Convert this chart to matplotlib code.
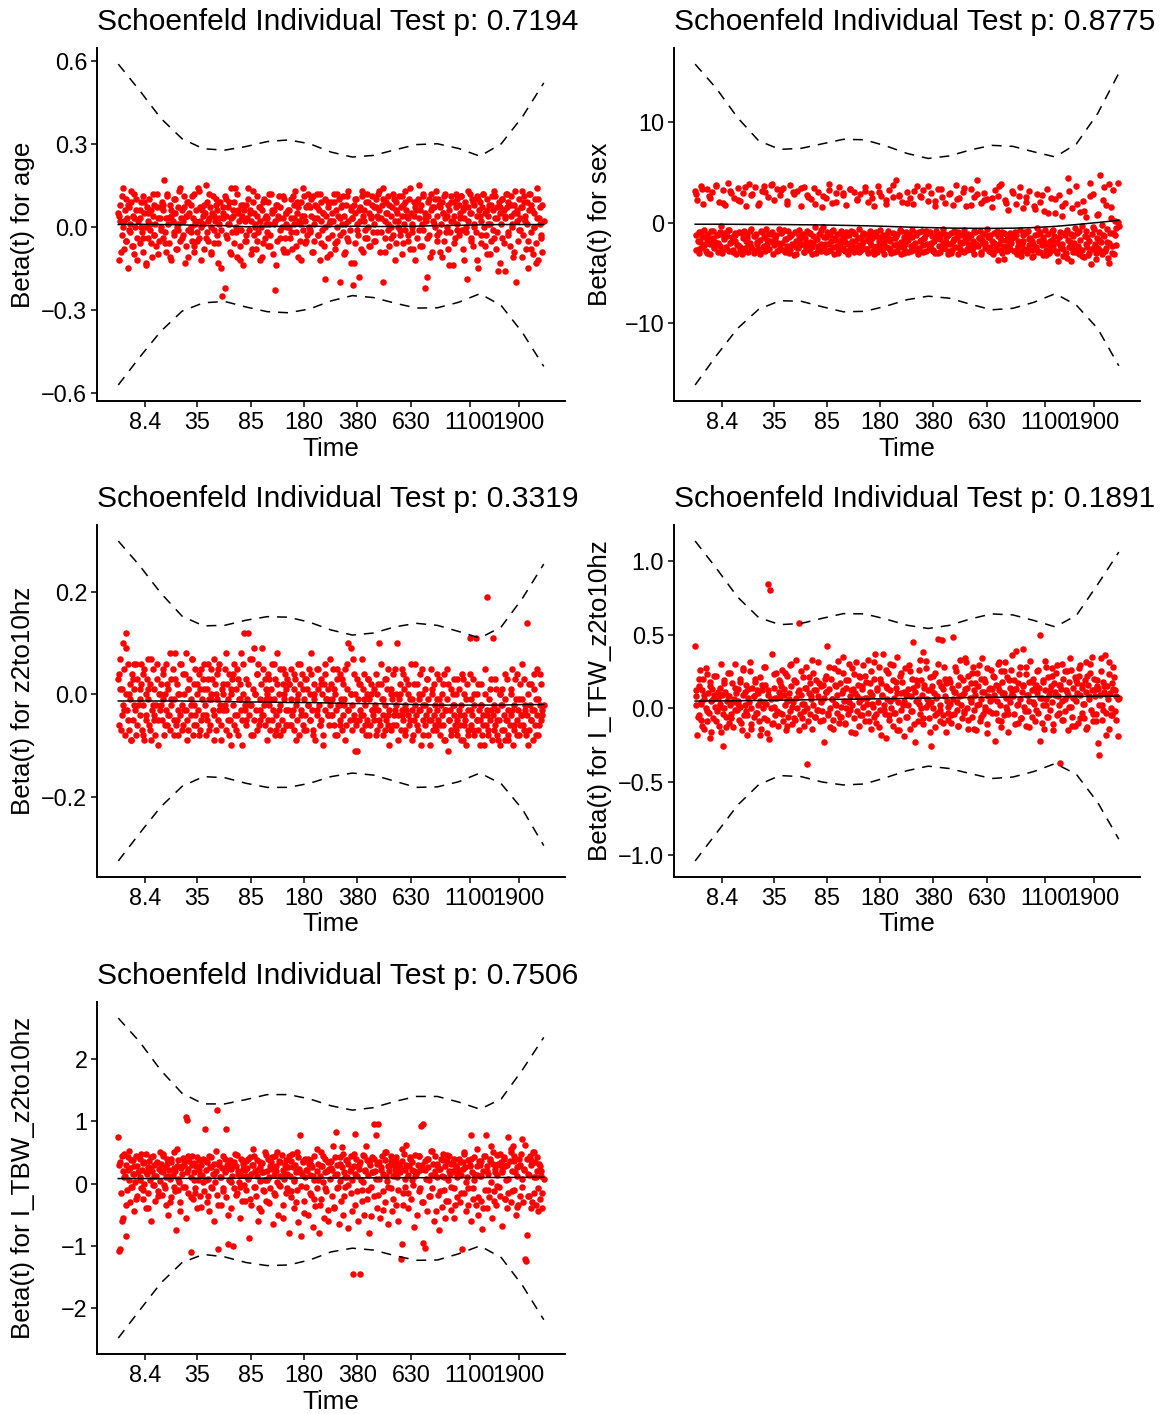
import matplotlib.pyplot as plt
import numpy as np
from matplotlib.ticker import FuncFormatter

plt.rcParams["font.family"] = ["Liberation Sans", "DejaVu Sans"]

# transformed event times (km scale, per mille) - shared by every covariate
EVENT_X = [
    0, 2, 3, 5, 8, 10, 11, 13, 15, 17, 19, 21, 22, 25, 27, 28, 30, 32, 34, 36, 38, 40, 42, 44, 47,
    50, 51, 53, 56, 58, 59, 61, 64, 66, 67, 69, 71, 73, 75, 77, 79, 81, 83, 85, 86, 89, 91, 93, 95, 97,
    100, 102, 104, 105, 107, 110, 112, 113, 115, 118, 120, 121, 123, 125, 128, 130, 131, 133, 135, 138, 140, 141, 143, 146, 148,
    150, 152, 153, 155, 158, 160, 162, 163, 165, 167, 170, 171, 173, 175, 177, 179, 181, 183, 185, 187, 189, 191, 193, 195, 198,
    200, 201, 203, 206, 208, 209, 211, 214, 216, 217, 219, 222, 224, 225, 227, 229, 231, 233, 235, 237, 239, 241, 244, 246, 247,
    250, 252, 254, 256, 257, 260, 262, 264, 265, 268, 270, 271, 273, 276, 278, 279, 281, 283, 286, 288, 289, 291, 294, 296, 298,
    300, 301, 303, 305, 308, 310, 311, 313, 316, 318, 319, 321, 323, 326, 327, 329, 332, 334, 335, 337, 339, 342, 344, 345, 348,
    350, 352, 353, 355, 357, 360, 361, 363, 366, 368, 369, 371, 374, 376, 377, 379, 381, 384, 386, 387, 389, 392, 394, 395, 397,
    400, 401, 404, 406, 407, 409, 412, 414, 415, 417, 420, 422, 423, 425, 427, 430, 431, 433, 436, 438, 439, 441, 444, 446, 448,
    450, 451, 453, 456, 458, 459, 461, 463, 466, 468, 469, 471, 474, 476, 477, 479, 482, 484, 485, 487, 489, 492, 494, 496, 497,
    500, 502, 503, 505, 508, 510, 511, 513, 515, 518, 520, 521, 523, 526, 528, 529, 531, 534, 536, 537, 539, 541, 544, 546, 547,
    550, 551, 554, 556, 557, 559, 562, 564, 565, 567, 569, 572, 574, 576, 577, 579, 582, 584, 585, 588, 590, 591, 593, 596, 598,
    600, 601, 603, 606, 608, 609, 611, 613, 616, 618, 620, 621, 623, 626, 627, 629, 632, 634, 635, 637, 640, 642, 643, 645, 648,
    650, 652, 653, 655, 658, 659, 661, 664, 666, 667, 669, 672, 674, 675, 677, 680, 682, 683, 685, 688, 690, 691, 694, 696, 697,
    700, 701, 704, 706, 707, 709, 712, 714, 715, 717, 720, 722, 723, 725, 728, 729, 731, 734, 736, 737, 739, 742, 744, 745, 748,
    750, 752, 753, 755, 758, 760, 761, 763, 766, 767, 769, 772, 774, 775, 777, 780, 782, 783, 786, 788, 789, 791, 794, 796, 797,
    800, 801, 804, 806, 807, 809, 812, 813, 815, 818, 820, 821, 823, 826, 828, 829, 831, 834, 835, 837, 840, 842, 843, 845, 848,
    850, 852, 853, 856, 858, 859, 861, 864, 866, 867, 869, 872, 873, 875, 878, 880, 881, 883, 886, 888, 889, 891, 894, 896, 897,
    900, 901, 903, 906, 908, 909, 912, 914, 915, 917, 920, 922, 923, 926, 928, 929, 931, 934, 936, 937, 939, 942, 944, 945, 948,
    950, 952, 954, 955, 958, 960, 961, 963, 966, 968, 969, 971, 974, 976, 977, 979, 982, 984, 985, 987, 990, 992, 994, 997, 1000,
    # events in between the ones above
    1, 6, 9, 14, 17, 22, 26, 29, 34, 37, 42, 45, 50, 53, 58, 61, 66, 69, 74, 77, 82, 85, 90, 93, 98,
    101, 106, 109, 114, 117, 122, 125, 130, 133, 138, 141, 146, 149, 154, 157, 162, 165, 170, 173, 178, 181, 186, 189, 194, 197,
    202, 205, 210, 213, 218, 221, 226, 229, 234, 237, 242, 245, 250, 253, 258, 261, 266, 269, 274, 277, 282, 285, 290, 293, 298,
    301, 306, 309, 314, 317, 322, 325, 330, 333, 338, 341, 346, 349, 354, 357, 362, 365, 370, 373, 378, 381, 386, 389, 394, 397,
    402, 405, 410, 413, 418, 421, 426, 429, 434, 437, 442, 445, 450, 453, 458, 461, 466, 469, 474, 477, 482, 485, 490, 493, 498,
    501, 506, 509, 514, 517, 522, 525, 530, 533, 538, 541, 546, 549, 554, 557, 562, 565, 570, 573, 578, 581, 586, 589, 594, 597,
    602, 605, 610, 613, 618, 621, 626, 629, 634, 637, 642, 645, 650, 653, 658, 661, 666, 669, 674, 677, 682, 685, 690, 693, 698,
    701, 706, 709, 714, 717, 722, 725, 730, 733, 738, 741, 746, 749, 754, 757, 762, 765, 770, 773, 778, 781, 786, 789, 794, 797,
    802, 805, 810, 813, 818, 821, 826, 829, 834, 837, 842, 845, 850, 853, 858, 861, 866, 869, 874, 877, 882, 885, 890, 893, 898,
    901, 906, 909, 914, 917, 922, 925, 930, 933, 938, 941, 946, 949, 954, 957, 962, 965, 970, 973, 978, 981, 986, 989, 994, 997,
]

# scaled Schoenfeld residuals, beta(t) for age (x 0.01)
AGE_RESID = [
    5, -12, 8, 2, -3, 14, 0, -8, 6, 10, -5, 3, -15, 7, 1, -2, 9, -7, 4, 12, -10, 0, 6, -4, 2,
    -6, 3, 9, -2, 11, -9, 5, 0, -13, 7, 2, -4, 10, -1, 6, -11, 4, 8, -3, 1, -7, 12, 3, -5, 7,
    0, 9, -4, 6, 17, -2, 3, -9, 11, 1, -6, 8, -12, 4, 2, -3, 10, 5, -8, 0, 7, -1, 13, -5, 3,
    6, -3, 2, 11, -7, 4, 9, -1, -11, 5, 0, 8, -5, 3, 12, -9, 1, 6, -2, 14, -4, 7, 2, -12, 4,
    1, -8, 5, 15, -2, 9, -5, 3, 7, -10, 0, 11, 4, -6, 2, 8, -3, 6, -13, 1, 9, -1, -25, 5, 3,
    -22, 4, 10, -4, 7, 1, -9, 14, 3, -2, 6, -6, 9, 0, 12, -11, 5, 2, -7, 8, -1, 4, -14, 6, 2,
    8, -5, 3, 14, -1, 6, -10, 2, 9, -3, 5, 1, -8, 11, 4, -2, 7, -12, 0, 6, -6, 10, 3, -4, 1,
    3, -7, 9, 1, -3, 12, 5, -10, 6, -23, 2, 8, -5, 4, 11, -1, 7, 0, -8, 3, 10, -4, 5, 1, -9,
    6, 0, -4, 10, 3, -8, 8, 1, 13, -2, 5, -11, 7, 2, -5, 9, 4, -1, 11, -6, 2, 7, -3, 12, 0,
    -2, 7, 4, -9, 11, 1, -5, 8, 3, 12, -3, 6, -12, 2, 9, -1, 5, -7, -19, 10, 4, -4, 7, 1, -10,
    9, -3, 5, 2, 12, -8, 6, 0, -5, 10, 3, -20, 7, 1, -2, 11, 4, -9, 8, -4, 13, 2, -1, 6, -13,
    3, -21, 8, 5, -6, 10, 1, -3, -18, 7, 2, 11, -9, 4, 6, -1, 9, -4, 12, 0, 5, -7, 3, 8, -2,
    7, 1, -5, 10, 4, -2, 12, 6, -9, 3, 8, -20, 14, 2, -4, 9, 5, -1, 11, -7, 4, 0, 7, -3, 10,
    2, 9, -6, 5, 0, 11, -3, 7, 4, -10, 8, 1, -1, 13, 6, -5, 3, 10, -8, 5, 1, -2, 9, 4, -12,
    6, -4, 10, 3, 15, -7, 8, 1, -1, 11, -22, 5, 2, -18, 9, 4, -3, 12, 6, -9, 2, 7, 0, 10, -5,
    4, 10, -2, 7, 1, -11, 9, 5, -5, 12, 3, 0, -8, 8, 6, -2, 11, 2, -14, 9, 4, -4, 7, 1, 10,
    -3, 8, 5, 11, -1, 6, -12, 3, 9, 0, -19, 7, 2, 12, -4, 5, 10, -7, 1, 8, -2, 11, 4, -15, 6,
    9, 2, -6, 7, 12, 0, 5, -3, 10, -10, 4, 8, 1, -5, 11, 6, -1, 13, 3, -8, 7, -2, 9, 5, -13,
    1, 10, -4, 6, 3, -16, 12, 7, -2, 9, -7, 4, 11, 0, -11, 8, 5, -20, 6, 2, -5, 10, 3, -1, 13,
    7, -3, 11, 4, -8, 9, 1, -15, 6, 12, -2, 8, -10, 5, 0, 10, -6, 3, 14, -12, 7, 1, -3, -9, 2,
    4, -9, 11, 2, -5, 8, -1, 13, -7, 3, 10, -12, 6, 0, -4, 9, -14, 5, 1, -6, 12, -3, 7, -10, 3,
    -1, 8, -6, 12, 3, -11, 6, -2, 10, -8, 1, 14, -4, 7, -13, 4, 9, -2, 11, -7, 2, -5, 13, 0, 6,
    8, -4, 2, 12, -9, 5, -1, 10, -6, 3, -15, 7, 11, -3, 1, 9, -10, 4, 14, -2, 6, -12, 3, 8, -5,
    -3, 10, 5, -8, 13, 0, -5, 7, 2, -11, 9, 4, -2, 12, -7, 6, 1, -14, 8, 3, -4, 11, -9, 5, 0,
    6, -2, 11, 3, -7, 9, 1, -12, 14, 4, -5, 8, -1, 10, -9, 3, 7, -3, 12, -6, 5, 0, -11, 9, 2,
    2, 9, -6, 12, 4, -3, 8, -10, 1, 11, -5, 7, 3, -13, 10, -1, 6, -8, 13, 2, -4, 9, -7, 4, 11,
    -5, 7, 3, 13, -2, 10, -9, 5, 1, 8, -4, 12, -12, 6, 2, -1, 11, -6, 9, 4, -3, 14, 0, -8, 7,
    9, -1, 6, -7, 12, 3, -4, 10, -11, 7, 1, 13, -3, 8, -9, 5, 11, -2, 4, -14, 9, 2, -6, 12, -1,
    3, 11, -8, 7, -2, 13, 5, -5, 9, 0, -12, 10, 4, -3, 12, -7, 6, 1, -10, 8, -4, 11, 3, -16, 7,
    10, -6, 4, 12, -3, 8, 1, -9, 13, 5, -1, 7, -11, 9, 2, -5, 12, -8, 6, 0, -13, 10, 3, -4, 8,
]

# beta(t) for sex (x 0.1)
SEX_RESID = [
    31, -27, -12, 22, -30, -9, -19, 36, -25, -14, 18, -22, -7, -28, 33, -17, -11, 26, -31, -21, -8, 30, -15, -24, -19,
    37, -12, -29, 20, -9, -23, -3, -30, 32, -16, -10, 17, -26, -13, 39, -28, -7, -20, 29, -14, -27, 24, -18, -10, -31,
    34, -22, -9, -27, 21, -31, -15, 29, -8, -25, -18, 16, -12, -29, 38, -20, -6, -24, 28, -13, -30, 35, -11, -21, -26,
    19, -17, -30, -8, 31, -24, -14, 36, -28, -6, -21, 25, -11, -26, -18, 37, -9, -31, -22, 22, -15, -12, 33, -20, -27,
    27, -25, -10, -20, 34, -7, -29, -16, 18, -23, -8, -14, 37, -27, -12, -21, 30, -32, -9, -24, -31, 31, -17, -13, -22,
    16, -21, -11, -29, 35, -15, -25, -8, 27, -27, -19, -10, 23, -24, -13, -20, 34, -4, -30, -16, -23, 30, -11, -7, -28,
    15, -4, -24, -14, 24, -29, -9, -21, 32, -12, -27, -18, 19, -7, -31, -15, 29, -23, -11, -26, 35, -20, -8, -17, -25,
    27, -14, -28, -9, 17, -21, -31, -12, 33, -24, -8, -18, 30, -29, -11, -25, 22, -15, -22, -6, 28, -27, -13, -23, -19,
    31, -11, -26, -17, 20, -30, -8, -22, 29, -15, -28, -10, 16, -24, -13, -29, 36, -18, -7, -25, 26, -21, -12, -31, -16,
    22, -24, -13, -8, 32, -27, -18, -30, 25, -10, -22, -15, 42, -28, -11, -24, 27, -7, -31, -19, 20, -14, -26, -21, -9,
    30, -17, -29, -11, 24, -23, -14, -7, 18, -27, -20, -12, 36, -31, -9, -25, 26, -17, -8, -22, 32, -15, -28, -11, -21,
    21, -26, -9, -21, 29, -13, -28, -18, 16, -30, -8, -15, 33, -23, -11, -29, 25, -20, -6, -25, 19, -14, -19, -31, -12,
    28, -21, -10, -27, 17, -18, -8, -24, 37, -14, -31, -9, 24, -26, -12, -20, 30, -29, -7, -17, 16, -27, -11, -15, -23,
    33, -12, -26, -18, 25, -31, -9, -21, 42, -23, -15, -8, 19, -29, -17, -11, 29, -25, -20, -6, 23, -14, -28, -12, -24,
    15, -18, -31, -10, 32, -25, -8, -37, 26, -21, -14, -27, 38, -9, -23, -36, 22, -17, -12, -28, 12, -26, -10, -20, -15,
    29, -28, -14, -9, 18, -31, -18, -23, 35, -7, -29, -21, 14, -12, -26, -10, 25, -30, -8, -22, 31, -15, -27, -18, -33,
    16, -12, -26, -5, 28, -29, -18, -9, 20, -22, -32, -14, 11, -7, -27, -20, 33, -11, -30, -24, 24, -17, -8, -23, -13,
    9, -28, -19, -38, 27, -14, -9, -25, 6, -21, -33, -12, 19, -30, -7, -17, 44, -24, -11, -38, 14, -29, -20, -5, -27,
    36, -10, -23, -31, 10, -17, -3, -27, 21, -34, -13, -8, 5, -24, -32, -18, 39, -41, -11, -26, 28, -6, -21, -30, -15,
    8, -25, -9, 47, -19, -2, -31, 22, -13, -28, 17, -6, -35, 38, -20, -10, 4, -23, -30, 32, 2, -12, -5, 39, -3,
    28, -18, -26, -9, 33, -22, -13, -30, 24, -16, -8, -25, 36, -20, -11, -28, 19, -14, -24, -7, 31, -19, -29, -12, -22,
    22, -24, -10, -29, 35, -15, -21, -8, 27, -27, -13, -19, 17, -31, -9, -23, 30, -17, -26, -11, 38, -20, -14, -28, -6,
    32, -9, -27, -16, 21, -30, -12, -22, 28, -18, -25, -7, 34, -14, -29, -20, 25, -10, -23, -31, 18, -16, -26, -11, -21,
    26, -21, -14, -28, 38, -8, -24, -17, 20, -30, -11, -26, 29, -19, -13, -27, 33, -22, -9, -18, 23, -29, -15, -25, -10,
    35, -26, -12, -19, 24, -31, -9, -23, 30, -14, -27, -20, 18, -11, -25, -16, 37, -29, -13, -21, 26, -8, -24, -30, -17,
    19, -13, -28, -22, 31, -10, -26, -18, 25, -29, -15, -8, 36, -23, -20, -27, 21, -12, -30, -16, 33, -25, -11, -21, -28,
    29, -30, -16, -9, 23, -24, -19, -28, 34, -12, -26, -21, 17, -27, -8, -23, 28, -15, -31, -20, 22, -11, -25, -14, -29,
    24, -20, -27, -13, 36, -17, -30, -10, 19, -25, -22, -15, 31, -28, -12, -24, 26, -33, -18, -9, 20, -26, -16, -34, -21,
    13, -24, -11, -29, 27, -16, -21, -32, 9, -18, -27, -7, 23, -30, -14, -22, 16, -26, -10, -35, 31, -19, -25, -13, -29,
    18, -8, -27, -33, 11, -21, -14, -30, 26, -4, -24, -36, 7, -17, -28, -12, 35, -25, -19, -40, 15, -10, -31, -22, 1,
]

# beta(t) for z2to10hz (x 0.01)
Z2_RESID = [
    3, -6, 7, 1, -4, 10, -2, 5, -8, 0, 12, -3, 6, -7, 2, -1, -9, 4, -5, 1, 6, -3, -8, 3, -2,
    -4, 1, 6, -7, -2, 4, -9, 0, -5, 3, -1, 7, -6, 2, -9, -3, 5, -4, 1, -8, -2, 6, -5, 0, -3,
    2, -5, -1, 4, -8, 0, -3, 6, -6, 1, -4, -7, 3, -2, 5, -5, -1, 8, -6, 2, -3, -8, 0, -4, 6,
    -2, 4, -6, 0, -3, 8, -5, 1, -7, 3, -1, -4, 7, -8, 2, -2, 5, -6, 0, -3, 4, -7, 1, -5, 3,
    -4, 6, -2, -8, 1, -5, 3, -1, -6, 5, 0, -3, 7, -4, 2, -7, -1, 4, -5, 6, -2, -9, 1, -3, 0,
    5, -3, -7, 2, -1, 4, -5, 0, -10, 3, -2, 6, -6, 1, -4, 5, -8, -1, 2, -3, 8, -5, 0, 12, -2,
    -6, 3, -1, 12, -4, 7, -2, -8, 1, 9, -5, 0, -3, 4, -7, 6, -1, -5, 2, -4, 5, -2, -6, 3, -1,
    0, -5, 4, -2, -7, 1, 6, -3, -1, -8, 3, -4, 8, -6, 0, -2, 5, -5, 2, -7, -1, 4, -3, 1, -6,
    -3, 2, -6, 5, -1, -4, 1, -7, 3, -2, -5, 6, 0, -8, 2, -3, 4, -6, -1, 3, -4, -7, 1, -2, 5,
    -5, 0, 4, -3, -7, 2, -1, -9, 5, -4, 1, -2, -6, 3, -5, 0, -8, 2, -3, 6, -1, -4, 1, -6, -2,
    2, -4, -1, 5, -6, 0, -3, -8, 3, -2, 4, -5, -1, -7, 2, -4, -2, 5, -6, 1, -3, 10, -5, 0, 9,
    -2, 7, -4, -11, 0, -6, 3, -1, -5, 2, -3, -7, 1, -4, 4, -2, -8, 0, -5, 3, -1, -6, 2, -3, -4,
    1, -5, -2, 4, -7, 0, -3, 10, -6, 2, -1, -4, -8, 3, -2, -5, 1, -6, 5, -3, 0, -7, -1, 4, -4,
    -3, 0, -6, 10, -4, -1, 2, -7, -3, 5, -5, 1, -2, -8, 3, -4, 0, -6, -1, 6, -3, -9, 2, -5, -2,
    -4, 2, -7, -1, -3, 4, -10, 0, -5, -2, 1, -6, -4, 3, -8, -1, -3, 5, -5, 0, -7, 2, -2, -6, -3,
    -1, -5, 3, -8, -2, -4, 0, -6, 4, -3, -9, -1, -11, 2, -5, -3, 1, -7, -2, -4, 3, -6, 0, -5, -8,
    -3, 1, -6, -2, 4, -9, -4, 0, -5, -10, 2, -3, -7, 11, -1, -6, -4, 3, -8, -2, 11, -5, 0, -7, -3,
    -5, -2, 2, -8, -4, -10, 0, -6, -3, 19, -7, -1, -5, 3, -9, -4, 11, -2, -6, 1, -8, -3, -5, 0, -10,
    -2, -7, 1, -4, -9, -1, -5, 3, -8, -3, -6, 0, -4, 5, -10, -2, -7, -1, 4, -5, -3, -8, 2, -6, -4,
    -1, -6, 3, -3, -8, 14, -4, 0, -7, -2, -5, 2, -9, -3, 1, -6, -1, -4, 5, -8, -2, 4, -5, -3, -2,
    4, -7, 1, -3, 9, -5, 0, -9, 3, -2, 6, -6, -1, 2, -8, 5, -4, 1, -7, 7, -2, -5, 3, -10, 0,
    -2, 5, -6, 2, -4, 8, -1, -8, 3, -5, 0, 6, -7, -3, 4, -9, 1, -2, 7, -6, -4, 2, -8, 5, -1,
    1, -4, 6, -7, -1, 3, -9, 0, 5, -3, -6, 2, -2, 8, -5, -8, 1, 4, -4, -7, 3, -1, -10, 6, -3,
    -5, 2, -2, 7, -8, 0, 4, -6, -3, 9, -4, 1, -9, 3, -1, -5, 6, -7, 2, -3, -8, 5, 0, -6, 3,
    2, -6, -3, 4, -9, -1, 6, -4, 1, -7, 3, -2, -5, 8, -8, 0, -3, 5, -6, 2, -10, 4, -1, -4, 7,
    -4, 1, -8, 5, -2, -6, 3, -1, -9, 6, -3, 0, -7, 4, -5, -11, 2, -4, 7, -1, -6, 3, -8, 0, -3,
    -3, -8, 2, -5, 6, -1, -7, 3, -4, -10, 1, -6, 5, -2, -9, 0, -4, 4, -7, -3, 2, -5, -1, -8, 6,
    -6, 0, -3, 5, -8, -2, 3, -5, -10, 1, -4, -7, 4, -1, -6, 2, -9, -3, 5, -5, -8, 0, -2, -7, 3,
    -4, -9, 3, -6, -1, -8, 4, -3, -7, 0, -5, 2, -10, -2, -6, 5, -4, -8, 1, -3, -7, 3, -5, -9, 0,
    -2, -7, 4, -5, -9, 1, -3, -6, 3, -8, -1, -4, 6, -7, -2, -10, 2, -5, -3, 4, -8, -1, -6, 2, -4,
]

# beta(t) for I_TFW_z2to10hz (x 0.01)
TFW_RESID = [
    42, 2, 8, -18, 15, -5, 26, 4, -8, 12, 20, -14, 6, 0, 23, -9, 10, -3, 18, -20, 5, 13, -7, 9, 1,
    22, -2, 7, -12, 14, 3, -16, 9, -26, 19, 0, 11, -6, 5, 24, -10, 8, 2, -4, 17, -13, 6, 30, -1, 10,
    3, 13, -8, 20, 1, -15, 9, 27, -5, 11, -2, 16, -18, 7, 4, 25, -11, 0, 14, -6, 8, 18, -3, 12, 2,
    -9, 21, 5, -14, 12, 0, 28, -7, 16, 3, -17, 9, 84, -21, 80, 6, 37, -10, 14, 1, -5, 24, 7, -12, 11,
    18, -3, 8, 26, -9, 13, 2, -15, 22, 5, -6, 10, 29, -2, 15, -11, 4, 19, -8, 7, 33, 0, 12, 58, -4,
    9, -7, 21, 3, -12, 14, 28, 0, -38, 10, -4, 17, 6, -14, 24, 2, 12, -6, 19, -1, 8, 31, -9, 15, 4,
    -2, 16, 7, -23, 11, 22, 42, -5, 13, 0, -13, 20, 6, -8, 27, 3, 15, -3, 9, 32, -10, 17, 1, -6, 12,
    24, 5, -11, 14, 0, 19, -4, 30, 8, -16, 12, 2, 23, -7, 10, 31, -2, 16, 4, -12, 21, 6, -5, 13, 29,
    7, -9, 18, 3, 33, -3, 11, -14, 25, 9, 1, -6, 20, 37, -10, 14, 4, 28, -1, 17, -18, 8, 37, 2, -4,
    15, -20, 6, 24, -5, 12, 30, 0, -12, 19, 7, -3, 14, -15, 35, 4, -8, 22, 10, -1, 18, -19, 5, 27, 9,
    -6, 13, 2, 29, -14, 8, 20, -2, 45, 11, -23, 5, 16, -9, 26, 3, -4, 19, 9, 38, -11, 14, 1, 32, 6,
    12, -7, 21, 4, -26, 15, 0, 10, -13, 24, 7, -3, 47, 18, -9, 2, 46, 13, -5, 28, 8, -16, 17, 1, -8,
    20, 3, -10, 14, 6, 48, -4, 11, 25, -1, 16, -12, 8, 33, 2, -7, 19, 10, -3, 13, 31, 0, -14, 22, 7,
    4, 17, -6, 28, 12, -1, 9, -15, 24, 15, 3, -9, 20, 6, 34, -4, 11, 1, 18, -11, 27, 8, -2, 14, 5,
    13, -3, 22, 9, -22, 16, 5, 30, -8, 12, 2, -13, 25, 18, -5, 10, 31, 7, -1, 21, -16, 14, 4, 26, 11,
    8, 19, -4, 13, 39, 2, -10, 17, 6, 28, -7, 11, 40, 15, 1, -12, 23, 9, -2, 18, 5, 32, -6, 12, 20,
    3, -9, 16, 10, 25, -3, 14, 50, -22, 7, 19, 2, -14, 12, 28, 6, -6, 21, 9, -1, 15, 27, 4, -11, 17,
    11, 24, -5, 8, 16, 2, -37, 13, 30, -8, 20, 6, -2, 12, 25, -15, 9, 18, 1, 26, -6, 14, 7, -12, 21,
    5, 17, -10, 22, 9, 29, -3, 14, 3, -7, 19, 11, 31, -13, 16, 6, 24, -1, 12, 35, -9, 20, 8, -4, 15,
    13, -24, -32, 9, 34, 2, -8, 18, 11, 36, -3, 15, 6, -14, 23, 10, 0, 17, -5, 28, 12, -2, 8, -19, 7,
    12, -6, 20, 3, -12, 9, 27, -2, 15, -16, 6, 22, -9, 11, 1, 30, -4, 17, -13, 8, 24, -7, 4, 14, -1,
    5, 18, -10, 26, 2, -5, 13, 31, -14, 8, 20, -3, 10, -18, 16, 4, 28, -8, 12, 0, -11, 23, 7, -2, 19,
    15, -4, 9, 24, -12, 6, 30, 1, -7, 18, 11, -15, 25, 3, -2, 14, -9, 21, 8, 33, -6, 12, -1, 17, 5,
    -8, 20, 11, -3, 28, 6, -14, 16, 2, 25, -6, 10, 35, -10, 19, 4, -1, 27, 13, -17, 8, 22, -5, 15, 1,
    22, 7, -9, 17, 3, 31, -4, 12, -13, 20, 9, -1, 26, 14, -8, 5, 29, -3, 18, 10, -15, 24, 2, 11, -6,
    9, 25, -2, 14, -11, 19, 6, 33, 0, -7, 16, 27, 3, -16, 12, 22, -5, 8, 30, -1, 15, -10, 20, 5, -3,
    18, -5, 11, 28, 4, -12, 21, 9, -2, 34, 14, -8, 6, 24, -14, 17, 2, 29, -6, 11, 20, -1, -17, 13, 26,
    6, 21, -3, 15, 31, -9, 10, 25, 1, -4, 19, 8, 36, -11, 13, 3, 23, -7, 16, -2, 28, 9, -13, 18, 4,
    14, -1, 26, 7, -10, 18, 32, 2, -6, 12, 22, -15, 9, 29, -3, 16, 5, -8, 25, 11, 1, 34, -12, 7, 19,
    10, 27, -7, 16, 3, -14, 22, 8, 30, -4, 12, -9, 19, 2, 25, -1, 15, -18, 9, 31, -5, 13, 21, -8, 6,
]

# beta(t) for I_TBW_z2to10hz (x 0.01)
TBW_RESID = [
    74, -108, -105, 35, -60, 20, -55, 48, 12, -85, 30, -10, 42, 5, 25, -30, 38, -5, 15, -45, 28, 2, 45, -20, 18,
    10, 40, -8, 22, -25, 33, 0, 48, -40, 15, 26, -15, 37, 6, -60, 20, 44, -3, 30, -28, 12, 35, -12, 24, 4,
    32, -18, 18, 45, -2, 27, -35, 10, 39, -50, 22, 8, -22, 34, 14, -5, 50, 20, -75, 28, -10, 38, 3, -30, 25,
    16, 41, -6, 30, -55, 107, 102, 24, -15, 36, -110, 11, 45, -25, 19, 33, -8, 28, -40, 6, 38, 14, -20, 29, 2,
    40, -12, 87, 22, -30, 35, 8, -45, 26, -5, 42, 15, -60, 31, 3, 20, -18, 118, -105, 34, 10, -35, 25, 44, -8,
    18, -22, 87, 30, -98, 6, 38, -40, 24, 12, -100, 35, -8, 28, 46, -15, 20, 2, -55, 40, 14, -28, 32, -3, 22,
    36, -10, 25, 8, -87, 42, 16, -35, 30, -5, 45, 20, -20, 12, 38, -60, 26, 4, -45, 33, 18, -12, 50, 6, -28,
    20, -30, 40, 10, -8, 34, 24, -65, 14, 44, -18, 28, 2, -50, 36, 12, -4, 46, 22, -35, 8, 30, -15, 38, 16,
    26, -80, 12, 36, -22, 48, 4, -40, 30, 18, -10, 42, -62, 24, 78, -85, 16, 34, -28, 10, 40, -6, 22, -50, 32,
    14, 38, -18, 26, -70, 6, 44, -36, 20, -8, 32, -80, 12, 50, -25, 28, 2, -55, 40, 18, -12, 34, -42, 24, 8,
    36, -20, 22, 60, -40, 14, 83, -8, 30, -65, 42, 4, -28, 26, 48, -50, 18, -5, 38, 10, -72, 32, 20, -15, 44,
    6, -145, 28, 80, -35, 40, 12, -60, 24, -145, 34, -10, 46, 2, -50, 22, 60, -25, 38, 14, -80, 30, -6, 42, 18,
    95, -20, 20, 78, -40, 32, 95, 8, -55, 26, 44, -12, 16, 38, -30, 50, 4, -65, 28, 20, -8, 36, -45, 12, 30,
    24, -35, 42, 10, -60, 30, 18, -122, -98, 36, -15, 48, 22, -5, 62, 14, -40, 28, 40, -25, 6, 34, -70, 20, 46,
    16, -50, 30, 44, -12, 22, 93, -30, 95, -95, -104, 36, 8, -45, 26, 40, -20, 14, 52, -8, 32, -60, 20, 44, 10,
    30, -18, -75, 24, 40, -38, 12, 48, -10, 28, -55, 36, 6, -28, 44, 16, -42, 32, 20, -8, 40, -35, 26, 10, -22,
    22, 40, -30, 14, -106, 34, 48, -15, 26, -45, 10, 38, -8, 30, -60, 78, 18, -25, 42, 6, -35, 28, 14, -50, 36,
    12, -28, 36, -73, 20, 44, -10, 78, -40, 28, 16, -22, 40, 2, -55, 32, 50, -12, 24, -35, 14, 46, -5, 30, -20,
    34, -68, 18, 42, -25, 28, 6, -40, 74, -15, 36, 50, -30, 20, 60, -10, 44, -50, 26, 12, -35, 40, -20, 30, 8,
    72, -30, 22, -122, -125, 40, -83, 15, -20, 45, 30, -40, 50, 10, -15, 35, -35, 20, 42, -8, 28, -25, 12, -40, 8,
    30, -15, 45, 10, -35, 22, 52, -5, 38, 15, -25, 28, 5, 48, -10, 35, 18, -40, 25, 42, -2, 12, 33, -20, 50,
    20, 48, -8, 32, 12, -30, 40, 25, -12, 55, 8, -45, 28, 36, -5, 18, 44, -22, 30, 6, -15, 42, 22, -38, 14,
    38, 5, -20, 45, 26, -8, 15, 52, -35, 30, 10, -12, 40, 22, -50, 34, 2, 28, 48, -18, 16, -6, 38, 24, -28,
    12, 40, -25, 30, 55, -5, 22, -40, 35, 18, -10, 46, 6, -32, 28, 42, -15, 20, 50, -2, 34, -55, 14, 26, -8,
    44, -12, 26, 8, -30, 50, 18, -4, 36, -48, 22, 40, -15, 30, 12, -25, 55, 6, -35, 28, 45, -8, 20, -60, 34,
    25, -38, 42, 15, -6, 32, 58, -20, 10, 38, -2, 24, -45, 48, 16, -12, 30, 5, -28, 44, 20, -10, 35, -52, 18,
    40, 8, -18, 34, 22, -42, 50, 12, -5, 28, 45, -25, 16, 36, -10, 26, 55, -35, 8, 30, -15, 42, 22, -3, 12,
    18, 45, -8, 30, -30, 22, 40, 6, -20, 52, 14, -45, 32, 24, -12, 38, 10, -28, 46, 20, -5, 34, -55, 28, 15,
    35, -15, 24, 50, 2, -35, 28, 40, -8, 16, 56, -22, 30, 12, -40, 44, 20, -10, 36, 60, -28, 18, -4, 32, 48,
    22, 40, -25, 30, 8, 55, -12, 36, 18, -38, 28, 48, -5, 24, 62, -20, 14, 38, -30, 50, 10, -45, 32, 20, -15,
]

# smoothed beta(t) and its +-2se band, read at these transformed times
CURVE_X = [0.0, 0.05, 0.10, 0.15, 0.20, 0.25, 0.30, 0.35, 0.40, 0.45, 0.50,
           0.55, 0.60, 0.65, 0.70, 0.75, 0.80, 0.85, 0.90, 0.95, 1.0]

AGE_FIT = [0.008, 0.009, 0.008, 0.007, 0.004, 0.004, 0.0, 0.001, 0.002, 0.002, 0.001,
           0.002, 0.001, 0.001, 0.002, 0.004, 0.005, 0.007, 0.008, 0.008, 0.008]
AGE_UPPER = [0.588, 0.493, 0.392, 0.318, 0.282, 0.277, 0.290, 0.308, 0.314, 0.300, 0.270,
             0.252, 0.258, 0.278, 0.297, 0.300, 0.283, 0.255, 0.300, 0.398, 0.520]
AGE_LOWER = [-0.572, -0.472, -0.378, -0.305, -0.275, -0.270, -0.290, -0.307, -0.311, -0.297, -0.268,
             -0.249, -0.256, -0.276, -0.294, -0.293, -0.273, -0.242, -0.285, -0.383, -0.505]

SEX_FIT = [-0.17, -0.17, -0.18, -0.19, -0.20, -0.22, -0.24, -0.28, -0.32, -0.38, -0.45,
           -0.50, -0.55, -0.57, -0.58, -0.56, -0.50, -0.38, -0.20, 0.0, 0.22]
SEX_UPPER = [15.7, 13.3, 10.4, 8.1, 7.25, 7.35, 7.8, 8.25, 8.2, 7.6, 6.85,
             6.35, 6.6, 7.2, 7.65, 7.55, 7.0, 6.5, 7.8, 10.8, 14.8]
SEX_LOWER = [-16.1, -13.2, -10.5, -8.6, -7.75, -7.8, -8.35, -8.85, -8.8, -8.3, -7.65,
             -7.3, -7.5, -8.1, -8.65, -8.5, -7.9, -7.05, -8.2, -10.5, -14.2]

Z2_FIT = [-0.013, -0.013, -0.013, -0.013, -0.014, -0.014, -0.015, -0.015, -0.016, -0.016, -0.017,
          -0.018, -0.018, -0.019, -0.020, -0.021, -0.021, -0.021, -0.021, -0.020, -0.020]
Z2_UPPER = [0.300, 0.252, 0.198, 0.153, 0.134, 0.135, 0.145, 0.152, 0.151, 0.141, 0.126,
            0.116, 0.120, 0.132, 0.139, 0.135, 0.123, 0.110, 0.132, 0.188, 0.255]
Z2_LOWER = [-0.326, -0.272, -0.220, -0.180, -0.161, -0.163, -0.174, -0.182, -0.182, -0.174, -0.161,
            -0.154, -0.158, -0.170, -0.182, -0.181, -0.171, -0.154, -0.175, -0.225, -0.296]

TFW_FIT = [0.048, 0.049, 0.050, 0.052, 0.054, 0.056, 0.058, 0.060, 0.062, 0.064, 0.066,
           0.068, 0.070, 0.072, 0.074, 0.075, 0.077, 0.078, 0.079, 0.080, 0.081]
TFW_UPPER = [1.135, 0.95, 0.755, 0.615, 0.567, 0.575, 0.610, 0.642, 0.640, 0.605, 0.563,
             0.541, 0.562, 0.606, 0.640, 0.633, 0.595, 0.552, 0.630, 0.84, 1.06]
TFW_LOWER = [-1.038, -0.85, -0.66, -0.52, -0.458, -0.465, -0.502, -0.522, -0.515, -0.472, -0.425,
             -0.394, -0.41, -0.445, -0.478, -0.468, -0.43, -0.376, -0.45, -0.64, -0.89]

TBW_FIT = [0.080, 0.080, 0.081, 0.082, 0.083, 0.084, 0.085, 0.086, 0.087, 0.088, 0.089,
           0.090, 0.091, 0.092, 0.093, 0.094, 0.095, 0.096, 0.097, 0.098, 0.100]
TBW_UPPER = [2.66, 2.28, 1.82, 1.45, 1.28, 1.28, 1.35, 1.43, 1.43, 1.36, 1.25,
             1.18, 1.22, 1.32, 1.40, 1.40, 1.31, 1.195, 1.36, 1.83, 2.35]
TBW_LOWER = [-2.485, -2.04, -1.60, -1.27, -1.14, -1.18, -1.27, -1.32, -1.31, -1.23, -1.10,
             -1.04, -1.07, -1.16, -1.235, -1.23, -1.13, -1.003, -1.19, -1.64, -2.19]

# x axis shows the original times at their transformed positions
TIME_TICK_POS = [0.063, 0.186, 0.312, 0.437, 0.562, 0.689, 0.826, 0.941]
TIME_TICK_LABELS = ["8.4", "35", "85", "180", "380", "630", "1100", "1900"]

PANELS = [
    # label, p value, residuals, residual unit, fit, upper, lower, y ticks, decimals
    ("age", "0.7194", AGE_RESID, 0.01, AGE_FIT, AGE_UPPER, AGE_LOWER,
     [-0.6, -0.3, 0.0, 0.3, 0.6], 1),
    ("sex", "0.8775", SEX_RESID, 0.1, SEX_FIT, SEX_UPPER, SEX_LOWER,
     [-10, 0, 10], 0),
    ("z2to10hz", "0.3319", Z2_RESID, 0.01, Z2_FIT, Z2_UPPER, Z2_LOWER,
     [-0.2, 0.0, 0.2], 1),
    ("I_TFW_z2to10hz", "0.1891", TFW_RESID, 0.01, TFW_FIT, TFW_UPPER, TFW_LOWER,
     [-1.0, -0.5, 0.0, 0.5, 1.0], 1),
    ("I_TBW_z2to10hz", "0.7506", TBW_RESID, 0.01, TBW_FIT, TBW_UPPER, TBW_LOWER,
     [-2, -1, 0, 1, 2], 0),
]

# axes boxes in figure fractions (left, bottom, width, height)
AXES_BOXES = [
    (0.0832, 0.7164, 0.4014, 0.2496),
    (0.5780, 0.7164, 0.3997, 0.2496),
    (0.0832, 0.3798, 0.4014, 0.2489),
    (0.5780, 0.3798, 0.3997, 0.2489),
    (0.0832, 0.0424, 0.4014, 0.2489),
]


def minus_formatter(decimals):
    # R prints a real minus sign, not a hyphen
    def fmt(value, _pos):
        text = f"{value:.{decimals}f}"
        if text.startswith("-") and float(text) == 0:
            text = text[1:]
        return text.replace("-", "\u2212")
    return FuncFormatter(fmt)


def draw_panel(ax, panel):
    label, p_value, resid, unit, fit, upper, lower, yticks, decimals = panel
    x = np.array(EVENT_X) / 1000.0
    y = np.array(resid) * unit

    ax.scatter(x, y, s=22, color="#FF0000", linewidths=0, zorder=2)
    ax.plot(CURVE_X, fit, color="black", linewidth=1.1, zorder=3)
    for band in (upper, lower):
        ax.plot(CURVE_X, band, color="black", linewidth=1.1,
                dashes=(6.5, 5.2), zorder=3)

    # ggplot style 5% expansion around everything drawn
    all_y = np.concatenate([y, fit, upper, lower])
    y_pad = 0.05 * (all_y.max() - all_y.min())
    ax.set_ylim(all_y.min() - y_pad, all_y.max() + y_pad)
    x_pad = 0.05 * (x.max() - x.min())
    ax.set_xlim(x.min() - x_pad, x.max() + x_pad)

    ax.set_xticks(TIME_TICK_POS)
    ax.set_xticklabels(TIME_TICK_LABELS)
    ax.set_yticks(yticks)
    ax.yaxis.set_major_formatter(minus_formatter(decimals))

    ax.set_title(f"Schoenfeld Individual Test p: {p_value}", loc="left",
                 fontsize=21.6, pad=13)
    ax.set_xlabel("Time", fontsize=18.7, labelpad=2)
    ax.set_ylabel(f"Beta(t) for {label}", fontsize=18.7)
    # y titles sit at the left edge of each sub plot, not against the ticks
    ax.yaxis.set_label_coords(-0.1335, 0.5)

    ax.spines[["top", "right"]].set_visible(False)
    ax.spines[["left", "bottom"]].set_linewidth(1.4)
    ax.tick_params(direction="out", length=4, width=1.1, labelsize=16.8,
                   pad=3, colors="black")


fig = plt.figure(figsize=(11.66, 14.14), dpi=100)
for box, panel in zip(AXES_BOXES, PANELS):
    draw_panel(fig.add_axes(box), panel)

fig.savefig("out.png", dpi=100)
